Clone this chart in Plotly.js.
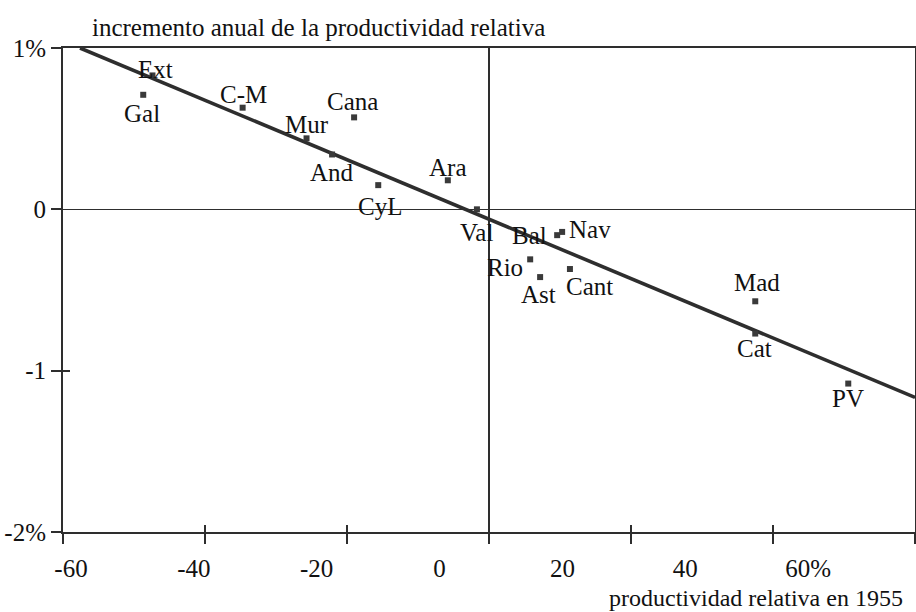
<!DOCTYPE html>
<html>
<head>
<meta charset="utf-8">
<script src="https://cdn.plot.ly/plotly-3.0.1.min.js"></script>
<style>html,body{margin:0;padding:0;background:#fff;}#chart{width:916px;height:612px;}</style>
</head>
<body>
<div id="chart"></div>
<script>
// ---- data ----
var regions = ["Ext","Gal","C-M","Cana","Mur","And","CyL","Ara","Val","Bal","Nav","Rio","Ast","Cant","Mad","Cat","PV"];
var relProd1955 = [-47.4,-48.7,-34.7,-19.0,-25.7,-22.1,-15.6,-5.8,-1.7,9.6,10.3,5.8,7.2,11.4,37.5,37.5,50.6];
var annualGrowth = [0.83,0.71,0.63,0.57,0.44,0.34,0.15,0.18,0.00,-0.16,-0.14,-0.31,-0.42,-0.37,-0.57,-0.77,-1.08];
var fitX = [-57.6, 60];
var fitY = [1.0, -1.166];
var xTickVals = [-60,-40,-20,0,20,40,60];
var xTickText = ["-60","-40","-20","0","20","40","60%"];
var yTickVals = [1,0,-1,-2];
var yTickText = ["1%","0","-1","-2%"];
var yTitle = "incremento anual de la productividad relativa";
var xTitle = "productividad relativa en 1955";

// ---- label offsets (pixels, screen: right / down) ----
var labelOffset = {
  "Ext":[3,-6],"Gal":[-1,19],"C-M":[1,-13],"Cana":[-2,-16],"Mur":[0,-14],"And":[0,18],
  "CyL":[2,21],"Ara":[0,-13],"Val":[0,23],"Bal":[-28,0],"Nav":[28,-2],"Rio":[-25,8],
  "Ast":[-2,17],"Cant":[20,17],"Mad":[2,-19],"Cat":[-1,15],"PV":[0,15]
};

var FONT = "Liberation Serif";
var INK = "#111";
var FS = 25;

var traces = [
  {x: fitX, y: fitY, mode: "lines", line: {color: "#2e2e2e", width: 3.6}, hoverinfo: "skip", showlegend: false},
  {x: relProd1955, y: annualGrowth, mode: "markers", text: regions,
   marker: {symbol: "square", size: 6, color: "#3a3a3a"}, showlegend: false},
  {x: [0], y: [null], xaxis: "x2", mode: "markers", hoverinfo: "skip", showlegend: false},
  {x: [0], y: [null], xaxis: "x3", mode: "markers", hoverinfo: "skip", showlegend: false},
  {x: [0], y: [null], yaxis: "y2", mode: "markers", hoverinfo: "skip", showlegend: false}
];

var annotations = regions.map(function(r, i) {
  var o = labelOffset[r] || [0, 0];
  return {x: relProd1955[i], y: annualGrowth[i], xref: "x", yref: "y", text: r, showarrow: false,
    xanchor: "center", yanchor: "middle", xshift: o[0], yshift: -o[1],
    font: {family: FONT, size: FS, color: INK}};
});
annotations.push({xref: "paper", yref: "paper", x: 0.0317, y: 1, xanchor: "left", yanchor: "middle",
  yshift: 21, showarrow: false, text: yTitle, font: {family: FONT, size: FS, color: INK}});
annotations.push({xref: "paper", yref: "paper", x: 0.988, y: 0, xanchor: "right", yanchor: "middle",
  yshift: -66, showarrow: false, text: xTitle, font: {family: FONT, size: 24, color: INK}});

var layout = {
  width: 916, height: 612,
  margin: {l: 63, r: 1, t: 48, b: 80},
  font: {family: FONT, size: FS, color: INK},
  paper_bgcolor: "#fff", plot_bgcolor: "#fff",
  showlegend: false,
  xaxis: {range: [-60, 60], tickvals: xTickVals, showticklabels: false,
    ticks: "outside", ticklen: 10, tickwidth: 2, tickcolor: "#2e2e2e",
    showline: true, linecolor: "#2e2e2e", linewidth: 2, mirror: true,
    showgrid: false, zeroline: true, zerolinecolor: "#2e2e2e", zerolinewidth: 1.6},
  xaxis2: {range: [-60, 60], overlaying: "x", anchor: "y", side: "bottom",
    tickvals: [-40,-20,20,40], showticklabels: false, ticks: "inside", ticklen: 7, tickwidth: 2,
    tickcolor: "#2e2e2e", showline: false, showgrid: false, zeroline: false},
  xaxis3: {range: [-61.3, 77.4], overlaying: "x", anchor: "y", side: "bottom",
    tickvals: xTickVals, ticktext: xTickText, ticks: "", ticklabelstandoff: 19,
    tickfont: {family: FONT, size: FS, color: INK},
    showline: false, showgrid: false, zeroline: false},
  yaxis: {range: [-2, 1], tickvals: yTickVals, ticktext: yTickText,
    ticks: "outside", ticklen: 10, tickwidth: 2, tickcolor: "#2e2e2e",
    tickfont: {family: FONT, size: FS, color: INK},
    showline: true, linecolor: "#2e2e2e", linewidth: 2, mirror: true,
    showgrid: false, zeroline: true, zerolinecolor: "#2e2e2e", zerolinewidth: 1.6},
  yaxis2: {range: [-2, 1], overlaying: "y", anchor: "x", side: "left",
    tickvals: [-1], showticklabels: false, ticks: "inside", ticklen: 7, tickwidth: 2,
    tickcolor: "#2e2e2e", showline: false, showgrid: false, zeroline: false},
  annotations: annotations
};

Plotly.newPlot("chart", traces, layout, {staticPlot: true, displayModeBar: false});
</script>
</body>
</html>
